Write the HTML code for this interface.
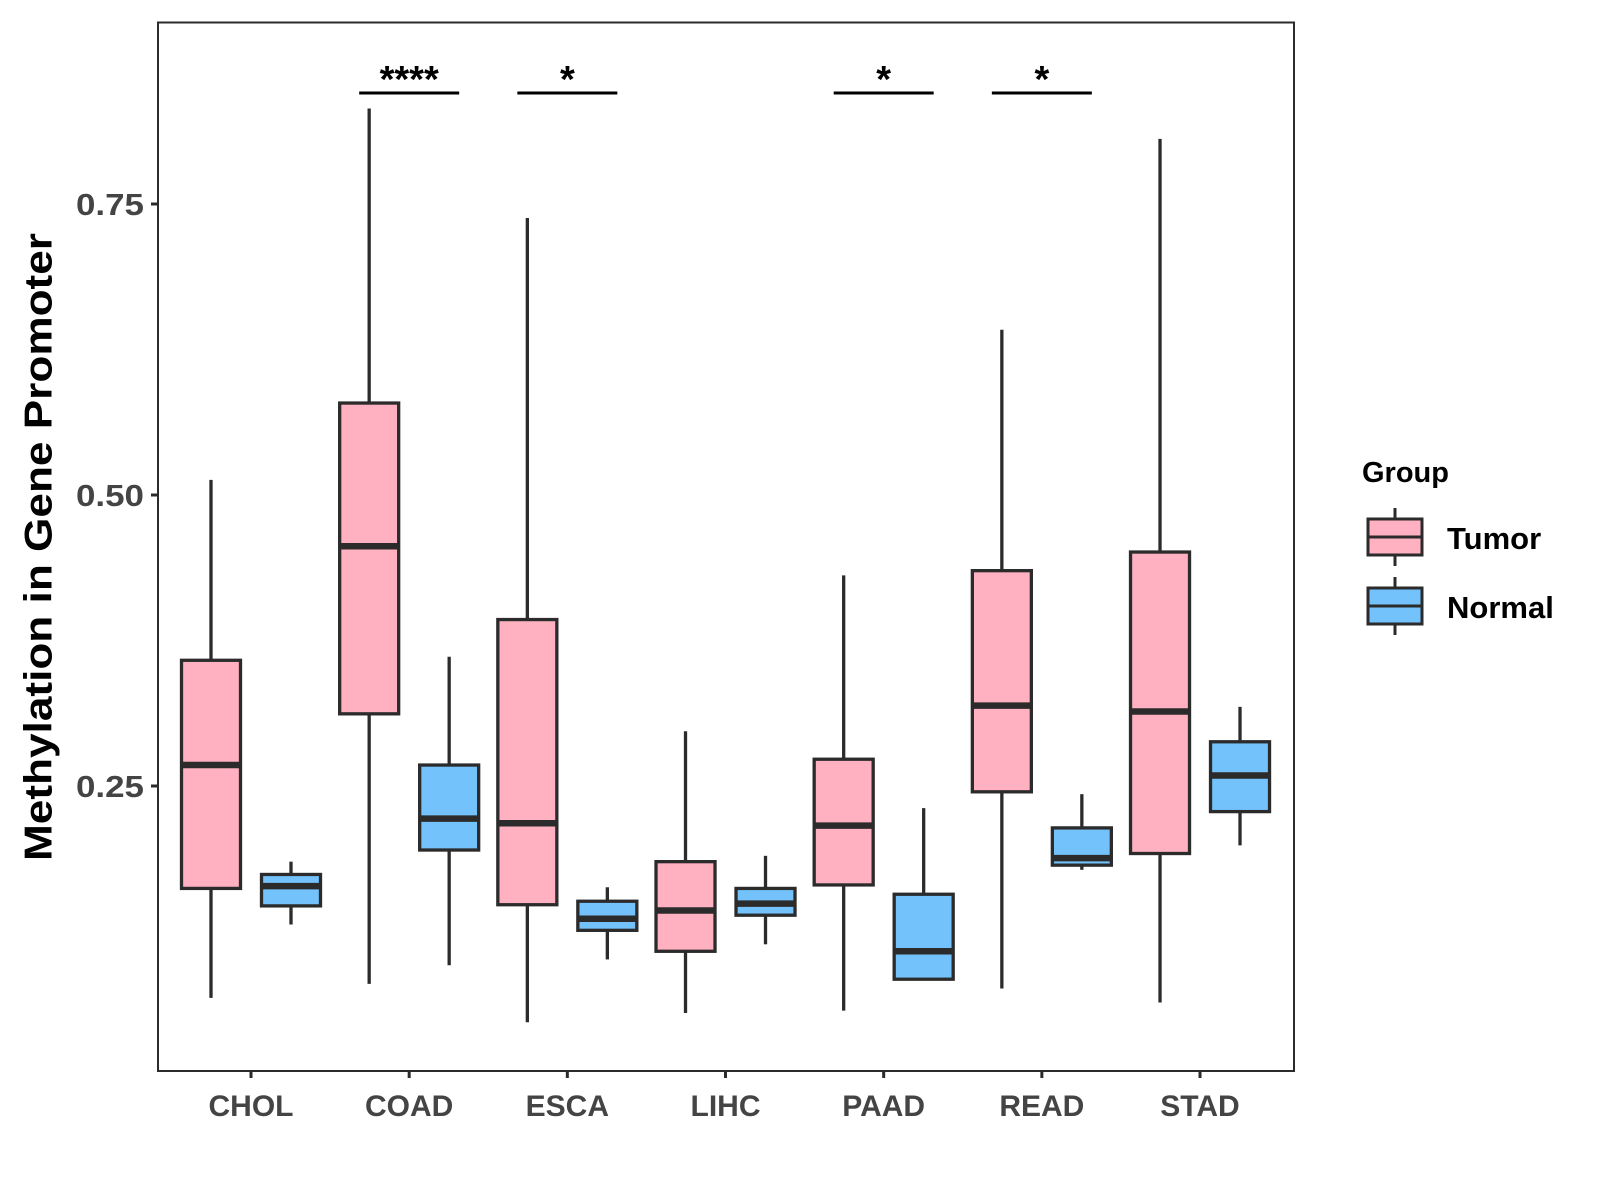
<!DOCTYPE html>
<html><head><meta charset="utf-8"><style>
html,body{margin:0;padding:0;background:#fff;}
svg{display:block;font-family:"Liberation Sans",Arial,sans-serif;}
</style></head><body>
<svg id="chart" width="1600" height="1200" viewBox="0 0 1600 1200">
<rect x="158" y="22.5" width="1136" height="1048.5" fill="#fff" stroke="#2b2b2b" stroke-width="2"/>
<g id="marks"></g>
<text x="39" y="547" transform="rotate(-90 39 547)" text-anchor="middle" dominant-baseline="central" font-size="39" font-weight="bold" fill="#000" textLength="628" lengthAdjust="spacingAndGlyphs">Methylation in Gene Promoter</text>
<g>
<text x="1362" y="482" font-size="29" font-weight="bold" fill="#000">Group</text>
<g>
<line x1="1395" y1="508" x2="1395" y2="566" stroke="#2b2b2b" stroke-width="3"/>
<rect x="1368" y="519" width="54" height="36" fill="#FFB0C1" stroke="#2b2b2b" stroke-width="3"/>
<line x1="1368" y1="537" x2="1422" y2="537" stroke="#2b2b2b" stroke-width="3"/>
<text x="1447" y="549" font-size="31" font-weight="bold" fill="#000">Tumor</text>
</g>
<g>
<line x1="1395" y1="577" x2="1395" y2="635" stroke="#2b2b2b" stroke-width="3"/>
<rect x="1368" y="588" width="54" height="36" fill="#73C2FB" stroke="#2b2b2b" stroke-width="3"/>
<line x1="1368" y1="606" x2="1422" y2="606" stroke="#2b2b2b" stroke-width="3"/>
<text x="1447" y="618" font-size="31" font-weight="bold" fill="#000">Normal</text>
</g>
</g>
</svg>
<script>
const categories = ["CHOL","COAD","ESCA","LIHC","PAAD","READ","STAD"];
// [lowWhisker, Q1, median, Q3, highWhisker]
const tumorStats = [
 [0.068,0.162,0.268,0.358,0.513],
 [0.080,0.312,0.456,0.579,0.832],
 [0.047,0.148,0.218,0.393,0.738],
 [0.055,0.108,0.143,0.185,0.297],
 [0.057,0.165,0.216,0.273,0.431],
 [0.076,0.245,0.319,0.435,0.642],
 [0.064,0.192,0.314,0.451,0.806]
];
const normalStats = [
 [0.131,0.147,0.164,0.174,0.185],
 [0.096,0.195,0.222,0.268,0.361],
 [0.101,0.126,0.136,0.151,0.163],
 [0.114,0.139,0.149,0.162,0.190],
 [0.084,0.084,0.108,0.157,0.231],
 [0.178,0.182,0.188,0.214,0.243],
 [0.199,0.228,0.259,0.288,0.318]
];
const yTicks = [0.25,0.50,0.75];
const yTickLabels = ["0.25","0.50","0.75"];
const sigCategories = ["COAD","ESCA","PAAD","READ"];
const sigLabels = ["****","*","*","*"];

const NS="http://www.w3.org/2000/svg";
const svg=document.getElementById('marks');
function y(v){return 786-(v-0.25)*1164;}
function x(i){return 251+i*158.17;}
function mk(tag,attrs,parent){const e=document.createElementNS(NS,tag);for(const k in attrs)e.setAttribute(k,attrs[k]);(parent||svg).appendChild(e);return e;}
const C="#2b2b2b";
yTicks.forEach((t,i)=>{
  const g=mk('g',{});
  
  
  mk('line',{x1:151,x2:158,y1:y(t),y2:y(t),stroke:C,'stroke-width':3},g);
  const tx=mk('text',{x:144,y:y(t)+11,'text-anchor':'end','font-size':31,'font-weight':'bold',fill:'#444',textLength:68,lengthAdjust:'spacingAndGlyphs'},g);
  tx.textContent=yTickLabels[i];
});
function drawBox(cx,s,fill,name){
  const g=mk('g',{});
  
  
  const w=59;
  mk('line',{x1:cx,x2:cx,y1:y(s[4]),y2:y(s[3]),stroke:C,'stroke-width':3.3},g);
  mk('line',{x1:cx,x2:cx,y1:y(s[1]),y2:y(s[0]),stroke:C,'stroke-width':3.3},g);
  mk('rect',{x:cx-w/2,y:y(s[3]),width:w,height:Math.max(0.5,y(s[1])-y(s[3])),fill:fill,stroke:C,'stroke-width':3.3},g);
  mk('line',{x1:cx-w/2,x2:cx+w/2,y1:y(s[2]),y2:y(s[2]),stroke:C,'stroke-width':6.5},g);
}
categories.forEach((c,i)=>{
  const cx=x(i);
  drawBox(cx-40,tumorStats[i],"#FFB0C1","box-tumor-"+c.toLowerCase());
  drawBox(cx+40,normalStats[i],"#73C2FB","box-normal-"+c.toLowerCase());
  const g=mk('g',{});
  
  
  mk('line',{x1:cx,x2:cx,y1:1071,y2:1078,stroke:C,'stroke-width':3},g);
  const t=mk('text',{x:cx,y:1116,'text-anchor':'middle','font-size':30,'font-weight':'bold',fill:'#444'},g);
  t.textContent=c;
});
sigCategories.forEach((c,k)=>{
  const cx=x(categories.indexOf(c));
  const g=mk('g',{});
  
  
  mk('line',{x1:cx-50,x2:cx+50,y1:93,y2:93,stroke:'#000','stroke-width':3},g);
  const t=mk('text',{x:cx,y:92,'text-anchor':'middle','font-size':38,'font-weight':'bold',fill:'#000'},g);
  t.textContent=sigLabels[k];
});
</script>
</body></html>
